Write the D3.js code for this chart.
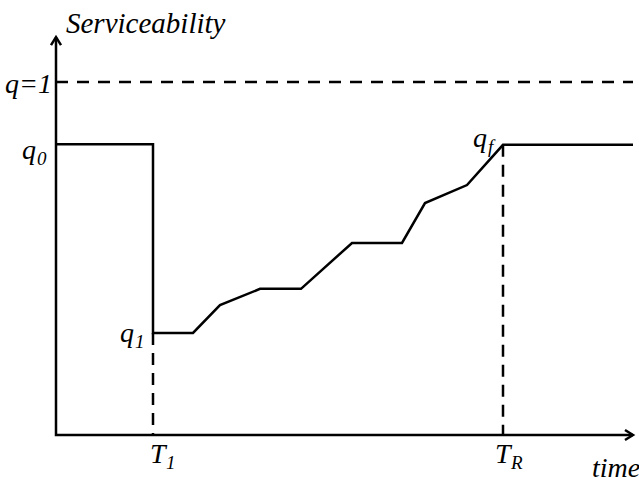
<!DOCTYPE html>
<html>
<head>
<meta charset="utf-8">
<script src="https://cdn.jsdelivr.net/npm/d3@7"></script>
<style>
  body { margin: 0; background: #fff; }
</style>
</head>
<body>
<div id="chart"></div>
<script>
// recovery curve (time in arbitrary units, serviceability 0..1)
var timeVals = [0, 9.7, 9.7, 13.7, 16.4, 20.4, 24.5, 29.6, 34.6, 36.9, 41.1, 44.7, 57.7];
var serviceVals = [0.824, 0.824, 0.289, 0.289, 0.368, 0.414, 0.414, 0.544, 0.544, 0.657, 0.708, 0.822, 0.822];
var T1 = 9.7, TR = 44.7;
var q0 = 0.824, q1 = 0.289, qf = 0.822, qMax = 1;

var width = 639, height = 478;

var x = d3.scaleLinear().domain([0, 57.7]).range([56, 633]);
var y = d3.scaleLinear().domain([0, 1]).range([435, 82]);

var svg = d3.select("#chart").append("svg")
    .attr("width", width)
    .attr("height", height)
    .style("font-family", "'Times New Roman'");

// labels first: main letter + optional subscript as separate texts
var labels = [
    {x: 66, y: 33, t: "Serviceability", s: 29},
    {x: 5, y: 93, t: "q=1", s: 28},
    {x: 22, y: y(q0) + 15, t: "q", s: 28},
    {x: 37, y: y(q0) + 21, t: "0", s: 19},
    {x: 120, y: y(q1) + 9, t: "q", s: 28},
    {x: 135, y: y(q1) + 15, t: "1", s: 19},
    {x: 473, y: y(qf) + 2, t: "q", s: 28},
    {x: 488, y: y(qf) + 8, t: "f", s: 19},
    {x: x(T1) - 3, y: 463, t: "T", s: 28},
    {x: x(T1) + 13, y: 469, t: "1", s: 19},
    {x: x(TR) - 8, y: 463, t: "T", s: 28},
    {x: x(TR) + 8, y: 469, t: "R", s: 19},
    {x: 592, y: 477, t: "time", s: 28}
];

svg.selectAll("text").data(labels).enter().append("text")
    .attr("x", d => d.x).attr("y", d => d.y)
    .style("font-family", "'Liberation Serif'")
    .style("font-style", "italic")
    .style("font-size", d => d.s + "px")
    .text(d => d.t);

// axes with open arrow heads
var axis = svg.append("g")
    .attr("fill", "none")
    .attr("stroke", "#000")
    .attr("stroke-width", 2.5)
    .attr("stroke-linejoin", "miter");

axis.append("path")
    .attr("d", "M" + x(0) + "," + y(1.127) + "L" + x(0) + "," + y(0) + "L" + x(57.7) + "," + y(0));
axis.append("path")
    .attr("d", "M" + (x(0) - 5) + "," + (y(1.127) + 8) + "L" + x(0) + "," + y(1.127) + "L" + (x(0) + 5) + "," + (y(1.127) + 8));
axis.append("path")
    .attr("d", "M" + (x(57.7) - 8) + "," + (y(0) - 5) + "L" + x(57.7) + "," + y(0) + "L" + (x(57.7) - 8) + "," + (y(0) + 5));

// q = 1 dashed line
svg.append("line")
    .attr("x1", x(0)).attr("x2", x(57.7))
    .attr("y1", y(qMax)).attr("y2", y(qMax))
    .attr("stroke", "#000")
    .attr("stroke-width", 2.5)
    .attr("stroke-dasharray", "12,9");

// dashed drops to the time axis
svg.selectAll(".drop")
    .data([[T1, q1], [TR, qf]])
    .enter().append("line")
    .attr("class", "drop")
    .attr("x1", d => x(d[0])).attr("x2", d => x(d[0]))
    .attr("y1", d => y(d[1])).attr("y2", y(0))
    .attr("stroke", "#000")
    .attr("stroke-width", 2.5)
    .attr("stroke-dasharray", "12,8");

var line = d3.line()
    .x((d, i) => x(timeVals[i]))
    .y(d => y(d));

svg.append("path")
    .datum(serviceVals)
    .attr("d", line)
    .attr("fill", "none")
    .attr("stroke", "#000")
    .attr("stroke-width", 2.5)
    .attr("stroke-linejoin", "miter");
</script>
</body>
</html>
